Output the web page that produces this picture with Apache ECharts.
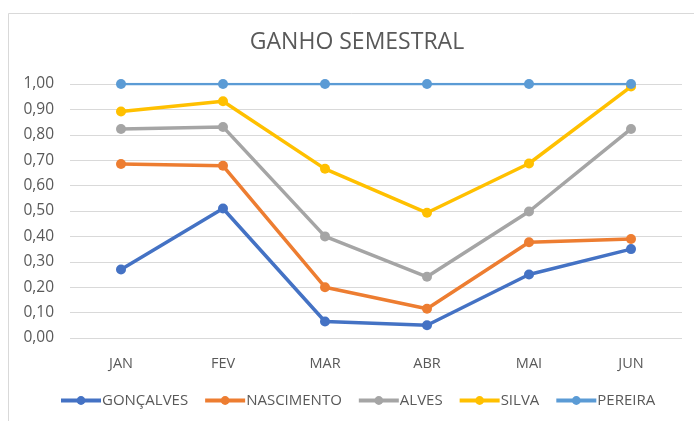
<!DOCTYPE html>
<html>
<head>
<meta charset="utf-8">
<script src="https://cdn.jsdelivr.net/npm/echarts@6/dist/echarts.min.js"></script>
<style>html,body{margin:0;padding:0;background:#fff}#c{width:694px;height:421px}</style>
</head>
<body>
<div id="c"></div>
<script>
var categories = ['JAN', 'FEV', 'MAR', 'ABR', 'MAI', 'JUN'];
var goncalves = [0.27, 0.51, 0.065, 0.05, 0.25, 0.35];
var nascimento = [0.685, 0.678, 0.20, 0.115, 0.377, 0.39];
var alves = [0.823, 0.831, 0.40, 0.241, 0.498, 0.823];
var silva = [0.892, 0.932, 0.666, 0.493, 0.687, 0.99];
var pereira = [1, 1, 1, 1, 1, 1];
var yTicks = [0, 0.1, 0.2, 0.3, 0.4, 0.5, 0.6, 0.7, 0.8, 0.9, 1.0];

var FONT = '"Liberation Sans Narrow", "Open Sans", sans-serif';
function mk(name, data, color, w) {
  return {
    name: name, type: 'line', data: data,
    symbol: 'circle', symbolSize: 10,
    lineStyle: {color: color, width: w},
    itemStyle: {color: color},
    emphasis: {disabled: true}
  };
}
var chart = echarts.init(document.getElementById('c'), null, {renderer: 'canvas'});
chart.setOption({
  backgroundColor: '#fff',
  animation: false,
  textStyle: {fontFamily: FONT},
  title: {
    text: 'GANHO SEMESTRAL', left: 357, textAlign: 'center', top: 31, padding: 0,
    textStyle: {fontFamily: FONT, fontSize: 23, fontWeight: 'normal', color: '#595959'}
  },
  graphic: [{
    type: 'rect', shape: {x: 8.5, y: 13.5, width: 700, height: 420},
    style: {fill: 'none', stroke: '#d9d9d9', lineWidth: 1}, silent: true
  }],
  legend: {
    bottom: 8, left: 54, itemWidth: 40, itemHeight: 11, itemGap: 15,
    lineStyle: {width: 4},
    textStyle: {fontFamily: FONT, fontSize: 15, color: '#595959', padding: [0, 0, 0, -4]},
    data: ['GONÇALVES', 'NASCIMENTO', 'ALVES', 'SILVA', 'PEREIRA']
  },
  grid: {left: 70, right: 12, top: 84, bottom: 83, containLabel: false},
  xAxis: {
    type: 'category', data: categories, boundaryGap: true,
    axisLine: {show: false}, axisTick: {show: false},
    axisLabel: {fontFamily: FONT, fontSize: 14.5, color: '#595959', margin: 18}
  },
  yAxis: {
    type: 'value', min: yTicks[0], max: yTicks[yTicks.length - 1], interval: 0.1,
    axisLine: {show: false}, axisTick: {show: false},
    splitLine: {lineStyle: {color: '#d9d9d9', width: 1}},
    axisLabel: {
      fontFamily: FONT, fontSize: 15.5, color: '#595959', margin: 16,
      formatter: function (v) { return v.toFixed(2).replace('.', ','); }
    }
  },
  series: [
    mk('GONÇALVES', goncalves, '#4472C4', 3.5),
    mk('NASCIMENTO', nascimento, '#ED7D31', 3.5),
    mk('ALVES', alves, '#A5A5A5', 3.5),
    mk('SILVA', silva, '#FFC000', 3.5),
    mk('PEREIRA', pereira, '#5B9BD5', 2.5)
  ]
});
</script>
</body>
</html>
